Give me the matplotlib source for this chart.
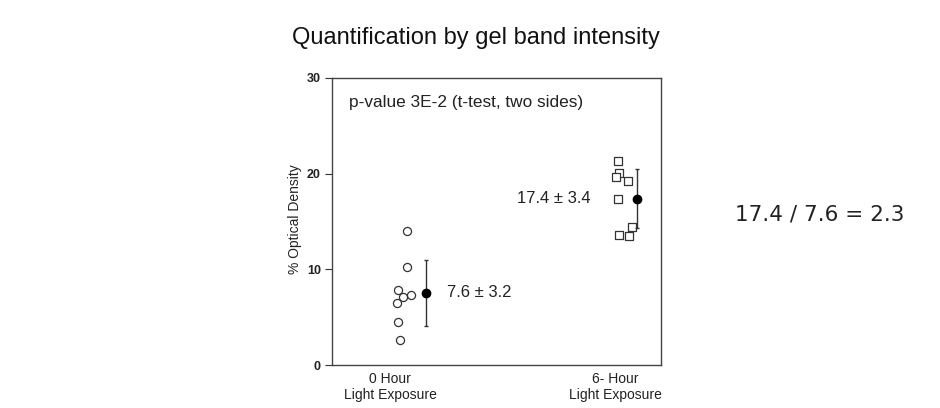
import matplotlib
matplotlib.use("Agg")
import matplotlib.pyplot as plt

# Data
categories = ["0 Hour\nLight Exposure", "6- Hour\nLight Exposure"]
hour0_values = [14.0, 10.2, 7.8, 7.3, 7.1, 6.5, 4.5, 2.6]
hour0_jitter = [0.077, 0.077, 0.037, 0.092, 0.056, 0.032, 0.037, 0.044]
hour6_values = [21.35, 20.1, 19.7, 19.2, 17.35, 14.4, 13.5, 13.6]
hour6_jitter = [0.015, 0.018, 0.004, 0.056, 0.015, 0.076, 0.062, 0.018]
means = [7.55, 17.4]
errors = [3.45, 3.05]
mean_labels = ["7.6 \u00b1 3.2", "17.4 \u00b1 3.4"]
yticks = [0, 10, 20, 30]

fig = plt.figure(figsize=(9.4, 4.08), dpi=100)
W, H = 940, 408
ax = fig.add_axes([332 / W, 1 - 365 / H, (661 - 332) / W, (365 - 78) / H])

fam = ["Liberation Sans", "DejaVu Sans"]
dark = "#222222"

ax.scatter([0 + j for j in hour0_jitter], hour0_values, s=34, marker="o",
           facecolors="white", edgecolors="#333333", linewidths=0.9, zorder=3)
ax.scatter([1 + j for j in hour6_jitter], hour6_values, s=40, marker="s",
           facecolors="white", edgecolors="#333333", linewidths=0.9, zorder=3)
mean_x = [0.16, 1.099]
ax.errorbar(mean_x, means, yerr=errors, fmt="o", color="black", ms=6,
            ecolor="#333333", elinewidth=1.0, capsize=1.5, capthick=1.0, zorder=4)

ax.set_xlim(-0.258, 1.204)
ax.set_ylim(0, 30)
ax.set_yticks(yticks)
ax.set_yticklabels([str(t) for t in yticks], fontsize=9, fontweight="bold",
                   family=fam, color=dark)
ax.set_xticks([0, 1])
ax.set_xticklabels(categories, fontsize=10, family=fam, color=dark,
                   linespacing=1.15)
ax.tick_params(axis="x", length=0, pad=5)
ax.tick_params(axis="y", length=5, width=0.8, direction="out", pad=3,
               color="#333333")
for s in ax.spines.values():
    s.set_color("#444444")
    s.set_linewidth(1.0)

ax.set_ylabel("% Optical Density", fontsize=10, family=fam, color=dark)
ax.yaxis.set_label_coords((295 - 332) / (661 - 332), 0.51)
ax.yaxis.label.set_va("center")

ax.text(0.052, 0.915, "p-value 3E-2 (t-test, two sides)", transform=ax.transAxes,
        fontsize=12.4, family=fam, color=dark, va="center", ha="left")
ax.text(0.255, means[0], mean_labels[0], fontsize=12, family=fam, color=dark,
        va="center", ha="left")
ax.text(0.89, means[1], mean_labels[1], fontsize=12, family=fam, color=dark,
        va="center", ha="right")

fig.text(476 / W, 1 - 38 / H, "Quantification by gel band intensity",
         fontsize=17, family=fam, color="#111111", ha="center", va="center")
fig.text(820 / W, 1 - 214 / H, "17.4 / 7.6 = 2.3", fontsize=15.5,
         family=["DejaVu Sans"], color=dark, ha="center", va="center")

fig.savefig("out.png", dpi=100, facecolor="white")
